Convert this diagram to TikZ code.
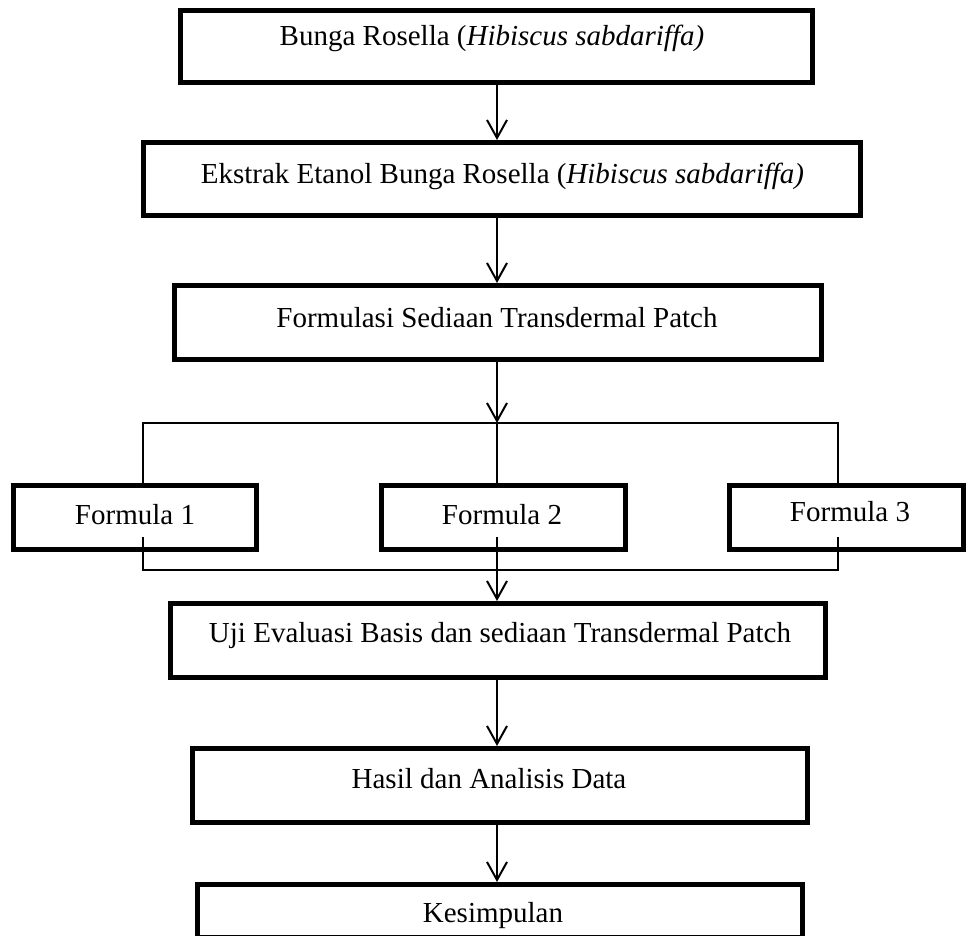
\documentclass[tikz,border=0pt]{standalone}
\usepackage{fontspec}
\setmainfont{Liberation Serif}
\usetikzlibrary{arrows.meta}
\begin{document}
\begin{tikzpicture}[x=0.5pt,y=-0.5pt,
  boxnode/.style={draw, line width=2.5pt, inner sep=0pt, rectangle},
  txt/.style={font=\fontsize{14.5pt}{17pt}\selectfont, anchor=base, inner sep=0pt},
  arr/.style={line width=1pt, -{Straight Barb[length=9pt,width=10pt]}},
  thinline/.style={line width=0.75pt}]
\useasboundingbox (0,0) rectangle (966,936);
\clip (0,0) rectangle (966,936);
% boxes
\node[boxnode, minimum width=316pt, minimum height=36pt] (b1) at (496.5,46.5) {};
\node[boxnode, minimum width=358.5pt, minimum height=36.5pt] (b2) at (502,179) {};
\node[boxnode, minimum width=323.5pt, minimum height=37pt] (b3) at (498,322.5) {};
\node[boxnode, minimum width=121.5pt, minimum height=32pt] (f1) at (135,517.5) {};
\node[boxnode, minimum width=122pt, minimum height=32pt] (f2) at (503.5,517.5) {};
\node[boxnode, minimum width=117pt, minimum height=32pt] (f3) at (846.5,517.5) {};
\node[boxnode, minimum width=327.5pt, minimum height=37pt] (b4) at (498,640.5) {};
\node[boxnode, minimum width=307.5pt, minimum height=37pt] (b5) at (500,785.5) {};
\node[boxnode, minimum width=302.5pt, minimum height=26.75pt] (b6) at (500,911.25) {};
% texts
\node[txt] (t1) at (492,46) {Bunga Rosella (\textit{Hibiscus sabdariffa)}};
\node[txt] (t2) at (502.5,184) {Ekstrak Etanol Bunga Rosella (\textit{Hibiscus sabdariffa)}};
\node[txt] (t3) at (497,328) {Formulasi Sediaan Transdermal Patch};
\node[txt] (tf1) at (135,525) {Formula 1};
\node[txt] (tf2) at (502,525) {Formula 2};
\node[txt] (tf3) at (850,522) {Formula 3};
\node[txt] (t4) at (500,643) {Uji Evaluasi Basis dan sediaan Transdermal Patch};
\node[txt] (t5) at (489,789) {Hasil dan Analisis Data};
\node[txt] (t6) at (493,922) {Kesimpulan};
% helper coordinates
\coordinate (mx) at (497,0);
\coordinate (lx) at (143,0);
\coordinate (rx) at (838,0);
\coordinate (top) at (497,423);
\coordinate (topL) at (143,423);
\coordinate (topR) at (838,423);
\coordinate (botL) at (143,570);
\coordinate (botR) at (838,570);
\coordinate (s1) at (143,537);
\coordinate (s2) at (497,537);
\coordinate (s3) at (838,537);
% connectors
\draw[arr] (b1.south -| mx) -- (b2.north -| mx);
\draw[arr] (b2.south -| mx) -- (b3.north -| mx);
\draw[arr] (b3.south -| mx) -- (top);
\draw[thinline] (f1.north -| lx) -- (topL) -- (topR) -- (f3.north -| rx);
\draw[thinline] (top) -- (f2.north -| mx);
\draw[thinline] (s1) -- (botL) -- (botR) -- (s3);
\draw[arr] (s2) -- (b4.north -| mx);
\draw[arr] (b4.south -| mx) -- (b5.north -| mx);
\draw[arr] (b5.south -| mx) -- (b6.north -| mx);
\end{tikzpicture}
\end{document}
